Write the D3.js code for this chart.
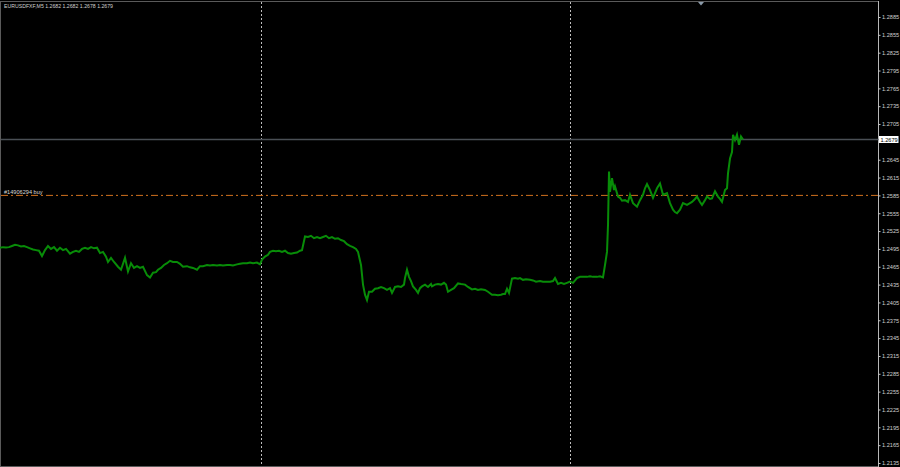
<!DOCTYPE html>
<html>
<head>
<meta charset="utf-8">
<script src="https://cdn.jsdelivr.net/npm/d3@7"></script>
<style>
  html, body { margin: 0; padding: 0; background: #000; }
  svg { display: block; }
  text { font-family: "Liberation Sans", Arial, sans-serif; }
</style>
</head>
<body>
<svg id="chart" width="900" height="467"></svg>
<script>
// ---------- DATA ----------
const symbolTitle = "EURUSDFXF,M5  1.2682 1.2682 1.2678 1.2679";
const orderLabel = "#14906294 buy";
const orderPrice = 1.2585;
const lastPrice = 1.2679;
const lastPriceLabel = "1.2679";

const priceTicks = [1.2885, 1.2855, 1.2825, 1.2795, 1.2765, 1.2735, 1.2705, 1.2645,
  1.2615, 1.2585, 1.2555, 1.2525, 1.2495, 1.2465, 1.2435, 1.2405, 1.2375, 1.2345,
  1.2315, 1.2285, 1.2255, 1.2225, 1.2195, 1.2165, 1.2135];
const priceTickLabels = ["1.2885", "1.2855", "1.2825", "1.2795", "1.2765", "1.2735", "1.2705", "1.2645",
  "1.2615", "1.2585", "1.2555", "1.2525", "1.2495", "1.2465", "1.2435", "1.2405", "1.2375", "1.2345",
  "1.2315", "1.2285", "1.2255", "1.2225", "1.2195", "1.2165", "1.2135"];

const separatorBars = [261, 570];
const shiftMarkerBar = 701;

const bars = [0,3,6,9,12,15,18,21,24,27,30,33,36,39,42,45,48,51,54,57,60,63,66,70,73,76,79,82,85,88,91,94,97,
  100,103,106,108,111,114,118,121,125,128,131,134,137,140,143,147,150,153,156,158,161,164,167,170,173,177,180,
  183,187,190,193,197,200,203,207,210,213,217,220,223,227,230,233,237,240,243,247,250,253,257,260,
  262,265,268,270,273,276,279,282,285,288,291,294,297,300,302,305,308,311,314,317,320,323,326,329,332,335,338,
  341,344,347,350,353,356,358,361,363,365,367,369,372,375,378,381,384,387,390,392,395,398,401,404,405,407,409,
  411,413,416,418,420,422,425,428,431,432,435,438,441,444,446,448,451,454,458,461,465,468,472,475,478,481,485,
  488,492,495,498,501,503,505,507,509,512,515,518,520,523,526,530,533,536,540,543,546,550,553,555,558,561,564,
  567,570,573,577,580,583,587,590,593,597,600,603,605,607,608,609,610,612,614,615,618,620,622,625,628,630,633,
  637,640,643,645,647,650,653,655,657,660,663,667,670,673,675,677,680,683,687,690,692,695,697,700,702,705,707,
  710,712,715,718,720,722,725,727,728,730,732,733,735,737,739,741,743];

const closes = [1.2497,1.2498,1.24975,1.2498,1.2500,1.2502,1.2501,1.2499,1.2500,1.2498,1.2496,1.2494,1.2493,
  1.2492,1.2483,1.2493,1.2500,1.2495,1.2498,1.2492,1.2497,1.2493,1.2495,1.2487,1.2490,1.2492,1.2490,1.2495,
  1.2497,1.2495,1.2498,1.2496,1.2497,
  1.2488,1.2490,1.2482,1.2473,1.2480,1.2473,1.2465,1.2460,1.2480,1.2457,1.2471,1.2463,1.2466,1.2463,1.2465,
  1.2451,1.2447,1.2455,1.2456,1.2460,1.2463,1.2468,1.2471,1.2475,1.2473,1.2473,1.2470,
  1.2465,1.2466,1.2464,1.2463,1.2460,1.2466,1.2466,1.2468,1.2467,1.2468,1.2467,1.2468,1.2467,1.2468,1.2468,
  1.2467,1.2469,1.2470,1.2471,1.2471,1.2472,1.2471,1.2472,1.2469,
  1.2477,1.2482,1.2485,1.2490,1.2492,1.2491,1.2492,1.2490,1.2492,1.2488,1.2487,1.2488,1.2489,1.2492,1.2493,
  1.2516,1.2515,1.2517,1.2513,1.2515,1.2513,1.2515,1.2517,1.2513,1.2515,1.2512,1.2513,
  1.2510,1.2508,1.2503,1.2500,1.2498,1.2495,1.2490,1.2468,1.2435,1.2418,1.2409,1.2423,1.2423,1.2428,1.2429,
  1.2431,1.2429,1.2426,1.2429,1.2421,1.2431,1.2432,1.2431,1.2435,1.2446,1.2460,1.2448,
  1.2441,1.2432,1.2426,1.2421,1.2429,1.2432,1.2435,1.2431,1.2436,1.2432,1.2435,1.2436,1.2435,1.2438,1.2435,
  1.2423,1.2426,1.2429,1.2437,1.2436,1.2435,1.2431,1.2427,1.2428,1.2426,1.2427,1.2426,
  1.2423,1.2418,1.2418,1.2417,1.2418,1.2419,1.2419,1.2428,1.2421,1.2445,1.2446,1.2445,1.2446,1.2443,1.2444,
  1.2443,1.2442,1.2440,1.2441,1.2440,1.2440,1.2440,1.2441,1.2446,1.2436,1.2438,1.2436,
  1.2438,1.2440,1.2438,1.2446,1.2448,1.2448,1.2448,1.2449,1.2448,1.2448,1.2449,1.2447,1.2468,1.2490,1.2535,
  1.2625,1.2591,1.2614,1.2594,1.2600,1.2583,1.2581,1.2576,1.2577,1.2574,1.2586,1.2572,
  1.2566,1.2577,1.2586,1.2597,1.2604,1.2594,1.2581,1.2589,1.2597,1.2605,1.2586,1.2589,1.2572,1.2561,1.2557,
  1.2555,1.2561,1.2572,1.2569,1.2572,1.2574,1.2579,1.2583,1.2574,1.2569,1.2577,1.2583,
  1.2579,1.2580,1.2592,1.2583,1.2579,1.2574,1.2594,1.2597,1.2622,1.2647,1.2658,1.2687,1.2678,1.2687,1.2670,
  1.2684,1.2679];

// ---------- CHART ----------
const svg = d3.select("#chart");
const W = 900, H = 467;
const plotRight = 878.5;

const x = d3.scaleLinear().domain([0, 877]).range([0, 877]);
const y = d3.scaleLinear().domain([1.2135, 1.2885]).range([463, 17]);

svg.append("rect").attr("width", W).attr("height", H).attr("fill", "#000");

// frame
svg.append("rect")
  .attr("x", 0.5).attr("y", 1.5).attr("width", plotRight - 0.5).attr("height", H - 2)
  .attr("fill", "none").attr("stroke", "#5a5a5a").attr("stroke-width", 1);
svg.append("line")
  .attr("x1", plotRight).attr("x2", plotRight).attr("y1", 1).attr("y2", H)
  .attr("stroke", "#b8b8b8").attr("stroke-width", 1);

// period separators
svg.selectAll("line.sep").data(separatorBars).enter().append("line")
  .attr("class", "sep")
  .attr("x1", d => Math.round(x(d)) + 0.5).attr("x2", d => Math.round(x(d)) + 0.5)
  .attr("y1", 2).attr("y2", H - 1)
  .attr("stroke", "#bdbdbd").attr("stroke-width", 1).attr("stroke-dasharray", "2,2");

// right price axis
const axis = d3.axisRight(y).tickValues(priceTicks)
  .tickFormat((d, i) => priceTickLabels[i]).tickSize(2).tickPadding(1.5);
const gAxis = svg.append("g").attr("transform", `translate(${plotRight},0)`).call(axis);
gAxis.select(".domain").remove();
gAxis.selectAll(".tick line").attr("stroke", "#c8c8c8");
gAxis.selectAll(".tick text")
  .attr("fill", "#d0d0d0").attr("font-size", "5.6px")
  .attr("font-family", "'Liberation Sans', Arial, sans-serif");

// last price horizontal line
svg.append("line")
  .attr("x1", 1).attr("x2", plotRight).attr("y1", y(lastPrice)).attr("y2", y(lastPrice))
  .attr("stroke", "#4a4f55").attr("stroke-width", 1.4);

// order (buy) line
svg.append("line")
  .attr("x1", 1).attr("x2", plotRight).attr("y1", y(orderPrice)).attr("y2", y(orderPrice))
  .attr("stroke", "#d0701e").attr("stroke-width", 1).attr("stroke-dasharray", "7,3,2,3");
svg.append("text")
  .attr("x", 4).attr("y", y(orderPrice) - 1)
  .attr("fill", "#d8d8d8").attr("font-size", "5.6px")
  .text(orderLabel);

// price line
const lineGen = d3.line().x((d, i) => x(bars[i])).y(d => y(d));
svg.append("path")
  .datum(closes)
  .attr("d", lineGen)
  .attr("fill", "none")
  .attr("stroke", "#088c08")
  .attr("stroke-width", 2)
  .attr("stroke-linejoin", "miter");

// last price label box
const ly = y(lastPrice);
svg.append("rect")
  .attr("x", plotRight + 0.5).attr("y", ly - 3.5).attr("width", 19.5).attr("height", 7)
  .attr("fill", "#ffffff");
svg.append("text")
  .attr("x", plotRight + 2).attr("y", ly + 2)
  .attr("fill", "#000").attr("font-size", "5.6px")
  .text(lastPriceLabel);

// chart shift marker
const sx = x(shiftMarkerBar);
svg.append("path")
  .attr("d", `M${sx - 3},2 L${sx + 3},2 L${sx},5.5 Z`)
  .attr("fill", "#8a9aaa");

// title
svg.append("text")
  .attr("x", 4).attr("y", 8)
  .attr("fill", "#d0d0d0").attr("font-size", "5.2px")
  .text(symbolTitle);
</script>
</body>
</html>
